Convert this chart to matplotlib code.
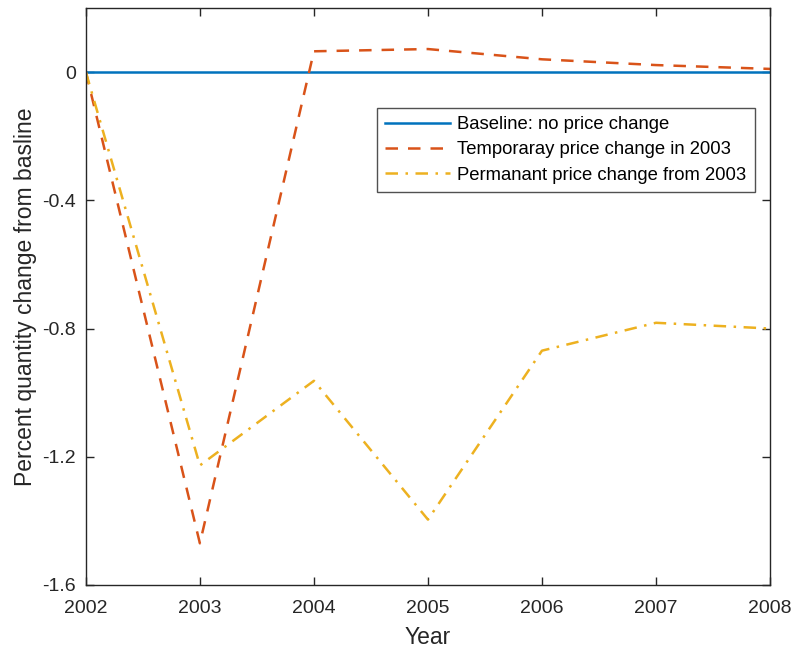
import matplotlib
matplotlib.use("Agg")
import matplotlib.pyplot as plt

plt.rcParams['font.family'] = ['Liberation Sans', 'DejaVu Sans']

years = [2002, 2003, 2004, 2005, 2006, 2007, 2008]
baseline = [0, 0, 0, 0, 0, 0, 0]
temporary = [0, -1.47, 0.065, 0.072, 0.04, 0.022, 0.01]
permanent = [0, -1.227, -0.963, -1.396, -0.869, -0.782, -0.80]
yticks = [-1.6, -1.2, -0.8, -0.4, 0]
ytick_labels = ['-1.6', '-1.2', '-0.8', '-0.4', '0']

fig = plt.figure(figsize=(7.95, 6.52), dpi=100)
ax = fig.add_axes([0.108, 0.1028, 0.8606, 0.8849])

ax.plot(years, baseline, color='#0072BD', lw=1.8, label='Baseline: no price change')
ax.plot(years, temporary, color='#D95319', lw=1.8, dashes=(5, 4), label='Temporaray price change in 2003')
ax.plot(years, permanent, color='#EDB120', lw=1.8, dashes=(5, 3, 1, 3), label='Permanant price change from 2003')

ax.set_xlim(2002, 2008)
ax.set_ylim(-1.6, 0.2)
ax.set_xticks(years)
ax.set_xticklabels([str(y) for y in years])
ax.set_yticks(yticks)
ax.set_yticklabels(ytick_labels)
ax.tick_params(direction='in', top=True, right=True, labelsize=14, colors='#262626', length=6, width=1, pad=7)
ax.tick_params(axis='x', pad=11)
for s in ax.spines.values():
    s.set_color('#262626')
    s.set_linewidth(1)

ax.set_xlabel('Year', fontsize=16.5, color='#262626', labelpad=6)
ax.set_ylabel('Percent quantity change from basline', fontsize=16.5, color='#262626', labelpad=4)

leg = ax.legend(loc='upper right', bbox_to_anchor=(0.9775, 0.827), fontsize=13.3, frameon=True,
                fancybox=False, edgecolor='#262626', handlelength=3.5, borderpad=0.45, labelspacing=0.45,
                handletextpad=0.4, borderaxespad=0)
leg.get_frame().set_linewidth(1)

fig.savefig('out.png', dpi=100)
